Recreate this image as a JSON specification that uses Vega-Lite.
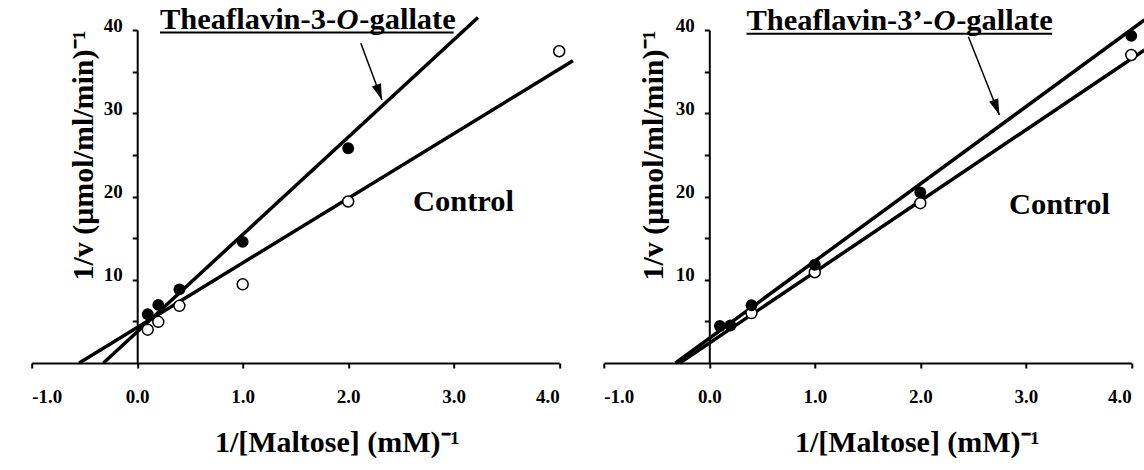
{
  "$schema": "https://vega.github.io/schema/vega-lite/v6.json",
  "background": "white",
  "padding": {"left": 30.7, "top": 5, "right": 0, "bottom": 0},
  "bounds": "flush",
  "spacing": 44.1,
  "config": {
    "view": {"stroke": null},
    "font": "Liberation Serif",
    "axis": {
      "domainColor": "black", "domainWidth": 2, "tickColor": "black", "tickWidth": 2, "tickSize": 5,
      "labelColor": "black", "labelFont": "Liberation Serif", "labelFontWeight": "bold", "labelFontSize": 19,
      "titleColor": "black", "titleFont": "Liberation Serif", "titleFontWeight": "bold", "titleFontSize": 30,
      "grid": false
    }
  },
  "datasets": {
    "ptsL": [
      {"x": 0.1, "y": 4.0, "series": "Control"},
      {"x": 0.2, "y": 4.95, "series": "Control"},
      {"x": 0.4, "y": 6.87, "series": "Control"},
      {"x": 1.0, "y": 9.45, "series": "Control"},
      {"x": 2.0, "y": 19.4, "series": "Control"},
      {"x": 4.0, "y": 37.45, "series": "Control"},
      {"x": 0.1, "y": 5.86, "series": "TF3G"},
      {"x": 0.2, "y": 6.98, "series": "TF3G"},
      {"x": 0.4, "y": 8.85, "series": "TF3G"},
      {"x": 1.0, "y": 14.55, "series": "TF3G"},
      {"x": 2.0, "y": 25.8, "series": "TF3G"}
    ],
    "linesL": [
      {"x": -0.55, "y": 0, "series": "Control"},
      {"x": 4.13, "y": 36.3, "series": "Control"},
      {"x": -0.32, "y": 0, "series": "TF3G"},
      {"x": 3.23, "y": 41.5, "series": "TF3G"}
    ],
    "textL": [
      {"x": 0.216, "y": 40.1, "text": "Theaflavin-3-", "style": "bold"},
      {"x": 1.89, "y": 40.1, "text": "O", "style": "italic"},
      {"x": 2.105, "y": 40.1, "text": "-gallate", "style": "bold"},
      {"x": 2.614, "y": 18.2, "text": "Control", "style": "bold"}
    ],
    "ulineL": [{"x": 0.216, "x2": 3.0, "y": 39.7}],
    "arrowL": [{"x": 2.12, "y": 38.4, "x2": 2.32, "y2": 31.6}],
    "ptsR": [
      {"x": 0.4, "y": 6.0, "series": "Control"},
      {"x": 1.0, "y": 10.9, "series": "Control"},
      {"x": 2.0, "y": 19.2, "series": "Control"},
      {"x": 4.0, "y": 37.0, "series": "Control"},
      {"x": 0.1, "y": 4.45, "series": "TF3pG"},
      {"x": 0.2, "y": 4.5, "series": "TF3pG"},
      {"x": 0.4, "y": 6.94, "series": "TF3pG"},
      {"x": 1.0, "y": 11.8, "series": "TF3pG"},
      {"x": 2.0, "y": 20.5, "series": "TF3pG"},
      {"x": 4.0, "y": 39.3, "series": "TF3pG"}
    ],
    "linesR": [
      {"x": -0.28, "y": 0, "series": "Control"},
      {"x": 4.125, "y": 37.6, "series": "Control"},
      {"x": -0.32, "y": 0, "series": "TF3pG"},
      {"x": 4.125, "y": 41.2, "series": "TF3pG"}
    ],
    "textR": [
      {"x": 0.353, "y": 40.0, "text": "Theaflavin-3’-", "style": "bold"},
      {"x": 2.125, "y": 40.0, "text": "O", "style": "italic"},
      {"x": 2.34, "y": 40.0, "text": "-gallate", "style": "bold"},
      {"x": 2.84, "y": 17.9, "text": "Control", "style": "bold"}
    ],
    "ulineR": [{"x": 0.353, "x2": 3.25, "y": 39.55}],
    "arrowR": [{"x": 2.456, "y": 39.2, "x2": 2.75, "y2": 29.8}]
  },
  "hconcat": [
    {
      "width": 527.5,
      "height": 333,
      "encoding": {
        "x": {"field": "x", "type": "quantitative",
          "scale": {"domain": [-1, 4], "nice": false, "zero": false},
          "axis": {"title": "1/[Maltose] (mM)⁻¹", "values": [-1, 0, 1, 2, 3, 4],
            "labelExpr": "datum.value < 0 ? '-' + format(-datum.value, '.1f') : format(datum.value, '.1f')",
            "labelPadding": 20, "titleX": 305, "titleY": 89, "titleBaseline": "alphabetic", "titleAlign": "center"}},
        "y": {"field": "y", "type": "quantitative",
          "scale": {"domain": [0, 40], "nice": false, "zero": false},
          "axis": {"title": "1/v (μmol/ml/min)⁻¹", "values": [5, 10, 15, 20, 25, 30, 35, 40],
            "labelExpr": "datum.value % 10 === 0 ? datum.label : ''",
            "offset": -105.5, "labelOffset": -5, "labelPadding": 10,
            "titleX": -54, "titleY": 125, "titleAngle": -90, "titleBaseline": "middle", "titleAlign": "center"}}
      },
      "layer": [
        {"data": {"name": "linesL"}, "mark": {"type": "line", "color": "black", "strokeWidth": 3.5, "clip": false},
          "encoding": {"detail": {"field": "series"}}},
        {"data": {"name": "ptsL"}, "transform": [{"filter": "datum.series === 'Control'"}],
          "mark": {"type": "point", "shape": "circle", "filled": false, "fill": "white", "fillOpacity": 1, "stroke": "black", "strokeWidth": 1.5, "size": 120, "opacity": 1}},
        {"data": {"name": "ptsL"}, "transform": [{"filter": "datum.series !== 'Control'"}],
          "mark": {"type": "point", "shape": "circle", "filled": true, "color": "black", "size": 140, "opacity": 1}},
        {"data": {"name": "textL"}, "transform": [{"filter": "datum.style === 'bold'"}],
          "mark": {"type": "text", "font": "Liberation Serif", "fontWeight": "bold", "fontSize": 30.5, "align": "left", "baseline": "alphabetic", "color": "black", "clip": false},
          "encoding": {"text": {"field": "text"}}},
        {"data": {"name": "textL"}, "transform": [{"filter": "datum.style === 'italic'"}],
          "mark": {"type": "text", "font": "Liberation Serif", "fontWeight": "bold", "fontStyle": "italic", "fontSize": 30.5, "align": "left", "baseline": "alphabetic", "color": "black", "clip": false},
          "encoding": {"text": {"field": "text"}}},
        {"data": {"name": "ulineL"}, "mark": {"type": "rule", "color": "black", "strokeWidth": 2, "clip": false},
          "encoding": {"x2": {"field": "x2"}}},
        {"data": {"name": "arrowL"}, "mark": {"type": "rule", "color": "black", "strokeWidth": 1.5, "clip": false},
          "encoding": {"x2": {"field": "x2"}, "y2": {"field": "y2"}}},
        {"data": {"name": "arrowL"}, "mark": {"type": "point", "shape": "M0,0L-0.3,-1L0.3,-1Z", "filled": true, "color": "black", "size": 1024, "angle": -20, "opacity": 1, "clip": false},
          "encoding": {"x": {"field": "x2", "type": "quantitative"}, "y": {"field": "y2", "type": "quantitative"}}}
      ]
    },
    {
      "width": 527.5,
      "height": 333,
      "encoding": {
        "x": {"field": "x", "type": "quantitative",
          "scale": {"domain": [-1, 4], "nice": false, "zero": false},
          "axis": {"title": "1/[Maltose] (mM)⁻¹", "values": [-1, 0, 1, 2, 3, 4],
            "labelExpr": "datum.value < 0 ? '-' + format(-datum.value, '.1f') : format(datum.value, '.1f')",
            "labelPadding": 20, "titleX": 313, "titleY": 89, "titleBaseline": "alphabetic", "titleAlign": "center"}},
        "y": {"field": "y", "type": "quantitative",
          "scale": {"domain": [0, 40], "nice": false, "zero": false},
          "axis": {"title": "1/v (μmol/ml/min)⁻¹", "values": [5, 10, 15, 20, 25, 30, 35, 40],
            "labelExpr": "datum.value % 10 === 0 ? datum.label : ''",
            "offset": -105.5, "labelOffset": -5, "labelPadding": 10,
            "titleX": -56, "titleY": 125, "titleAngle": -90, "titleBaseline": "middle", "titleAlign": "center"}}
      },
      "layer": [
        {"data": {"name": "linesR"}, "mark": {"type": "line", "color": "black", "strokeWidth": 3.5, "clip": false},
          "encoding": {"detail": {"field": "series"}}},
        {"data": {"name": "ptsR"}, "transform": [{"filter": "datum.series === 'Control'"}],
          "mark": {"type": "point", "shape": "circle", "filled": false, "fill": "white", "fillOpacity": 1, "stroke": "black", "strokeWidth": 1.5, "size": 120, "opacity": 1}},
        {"data": {"name": "ptsR"}, "transform": [{"filter": "datum.series !== 'Control'"}],
          "mark": {"type": "point", "shape": "circle", "filled": true, "color": "black", "size": 140, "opacity": 1}},
        {"data": {"name": "textR"}, "transform": [{"filter": "datum.style === 'bold'"}],
          "mark": {"type": "text", "font": "Liberation Serif", "fontWeight": "bold", "fontSize": 30.5, "align": "left", "baseline": "alphabetic", "color": "black", "clip": false},
          "encoding": {"text": {"field": "text"}}},
        {"data": {"name": "textR"}, "transform": [{"filter": "datum.style === 'italic'"}],
          "mark": {"type": "text", "font": "Liberation Serif", "fontWeight": "bold", "fontStyle": "italic", "fontSize": 30.5, "align": "left", "baseline": "alphabetic", "color": "black", "clip": false},
          "encoding": {"text": {"field": "text"}}},
        {"data": {"name": "ulineR"}, "mark": {"type": "rule", "color": "black", "strokeWidth": 2, "clip": false},
          "encoding": {"x2": {"field": "x2"}}},
        {"data": {"name": "arrowR"}, "mark": {"type": "rule", "color": "black", "strokeWidth": 1.5, "clip": false},
          "encoding": {"x2": {"field": "x2"}, "y2": {"field": "y2"}}},
        {"data": {"name": "arrowR"}, "mark": {"type": "point", "shape": "M0,0L-0.3,-1L0.3,-1Z", "filled": true, "color": "black", "size": 1024, "angle": -21, "opacity": 1, "clip": false},
          "encoding": {"x": {"field": "x2", "type": "quantitative"}, "y": {"field": "y2", "type": "quantitative"}}}
      ]
    }
  ]
}
